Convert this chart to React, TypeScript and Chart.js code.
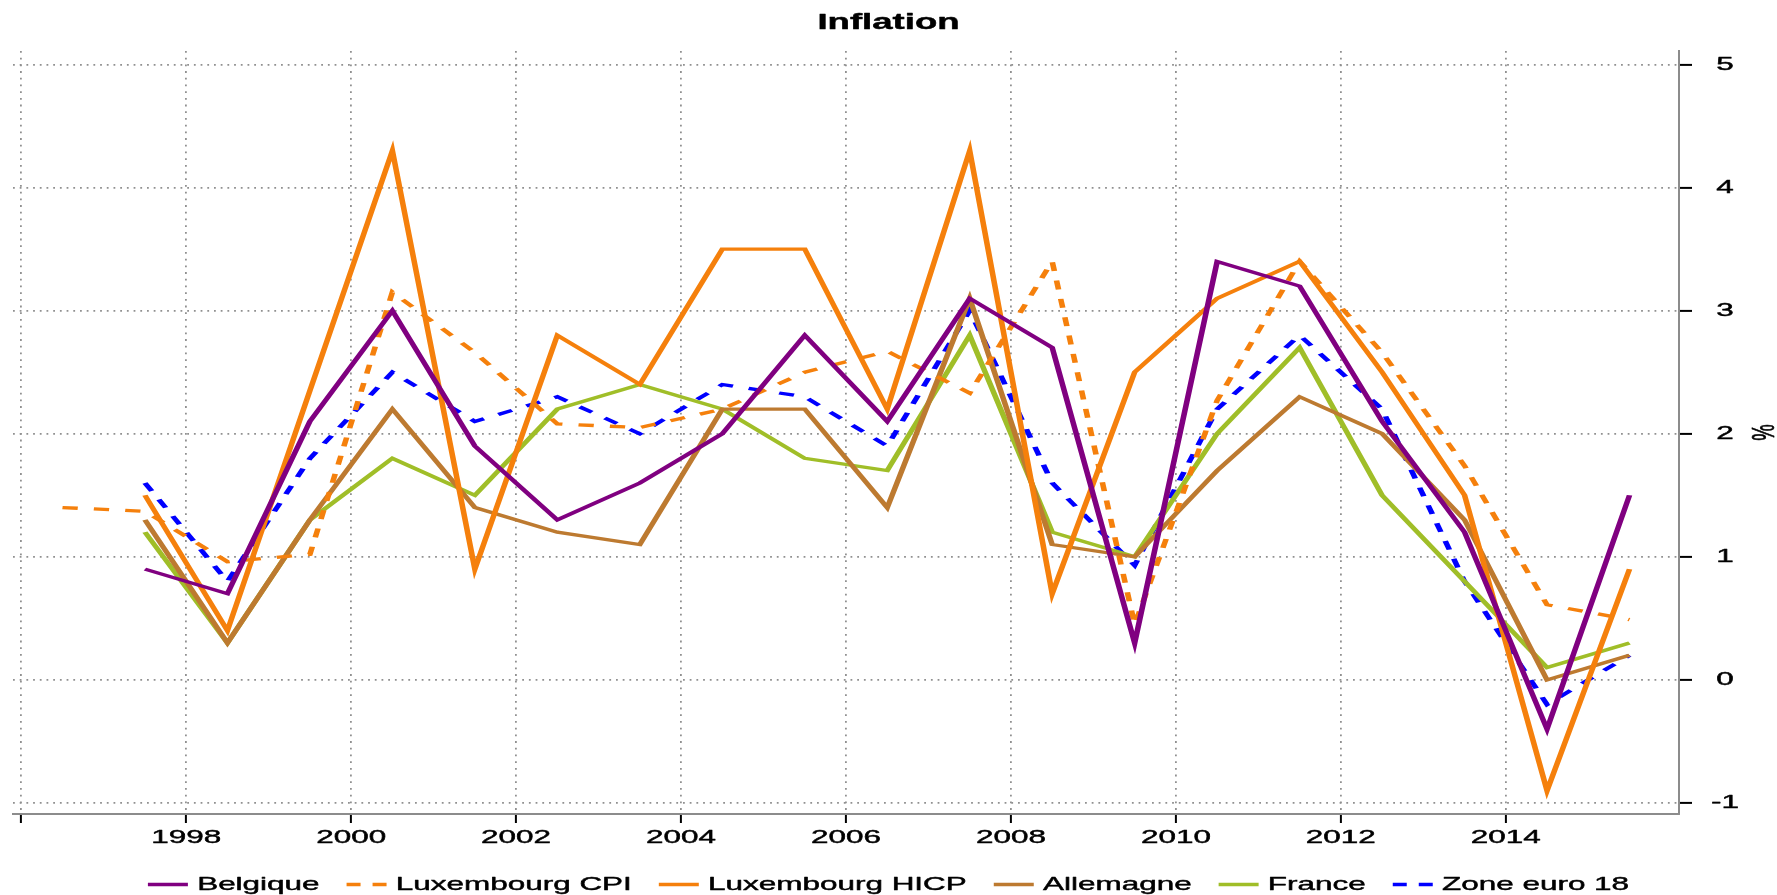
import React, { useEffect, useRef } from 'react';
import { Chart, registerables } from 'chart.js';

Chart.register(...registerables);

// ---------------- data ----------------
const TITLE = 'Inflation';
const Y_TITLE = '%';
const X_TICKS = [1996, 1998, 2000, 2002, 2004, 2006, 2008, 2010, 2012, 2014];
const Y_TICKS = [-1, 0, 1, 2, 3, 4, 5];

const YEARS = [
  1997.5, 1998.5, 1999.5, 2000.5, 2001.5, 2002.5, 2003.5, 2004.5, 2005.5, 2006.5,
  2007.5, 2008.5, 2009.5, 2010.5, 2011.5, 2012.5, 2013.5, 2014.5, 2015.5,
];
const YEARS_CPI = [
  1996.5, 1997.5, 1998.5, 1999.5, 2000.5, 2001.5, 2002.5, 2003.5, 2004.5, 2005.5,
  2006.5, 2007.5, 2008.5, 2009.5, 2010.5, 2011.5, 2012.5, 2013.5, 2014.5, 2015.5,
];

const BELGIQUE = [0.9, 0.7, 2.1, 3.0, 1.9, 1.3, 1.6, 2.0, 2.8, 2.1, 3.1, 2.7, 0.3, 3.4, 3.2, 2.1, 1.2, -0.4, 1.5];
const LUX_CPI = [1.4, 1.37, 0.96, 1.02, 3.15, 2.66, 2.08, 2.05, 2.2, 2.5, 2.67, 2.33, 3.4, 0.45, 2.27, 3.4, 2.66, 1.74, 0.61, 0.49];
const LUX_HICP = [1.5, 0.4, 2.35, 4.3, 0.9, 2.8, 2.4, 3.5, 3.5, 2.2, 4.3, 0.7, 2.5, 3.1, 3.4, 2.5, 1.5, -0.9, 0.9];
const ALLEMAGNE = [1.3, 0.3, 1.3, 2.2, 1.4, 1.2, 1.1, 2.2, 2.2, 1.4, 3.1, 1.1, 1.0, 1.7, 2.3, 2.0, 1.3, 0.0, 0.2];
const FRANCE = [1.2, 0.3, 1.3, 1.8, 1.5, 2.2, 2.4, 2.2, 1.8, 1.7, 2.8, 1.2, 1.0, 2.0, 2.7, 1.5, 0.8, 0.1, 0.3];
const ZONE_EURO = [1.6, 0.8, 1.8, 2.5, 2.1, 2.3, 2.0, 2.4, 2.3, 1.9, 3.0, 1.6, 0.93, 2.2, 2.8, 2.2, 0.8, -0.2, 0.2];

const SERIES_LABELS = ['Belgique', 'Luxembourg CPI', 'Luxembourg HICP', 'Allemagne', 'France', 'Zone euro 18'];

// ---------------- styles ----------------
const FONT = "'Liberation Sans', Arial, sans-serif";
const STRETCH = 1.7; // the original graphic is stretched horizontally
const TEXT_WEIGHT_STROKE = 0.45;
const SERIES_STYLE = [
  { color: '#800080', dashed: false },
  { color: '#f5800c', dashed: true },
  { color: '#f5800c', dashed: false },
  { color: '#bd7a30', dashed: false },
  { color: '#a0be28', dashed: false },
  { color: '#0000ff', dashed: true },
];

const toPoints = (xs: number[], ys: number[]) => xs.map((x, i) => ({ x, y: ys[i] }));

function patchText(ctx: CanvasRenderingContext2D, sx: number) {
  const proto = CanvasRenderingContext2D.prototype;
  (ctx as any).fillText = function (text: string, x: number, y: number) {
    const M = this.getTransform();
    const p = M.transformPoint(new DOMPoint(x, y));
    this.save();
    const N = new DOMMatrix()
      .translate(p.x, p.y)
      .scale(sx, 1)
      .translate(-p.x, -p.y)
      .multiply(M)
      .translate(x, y);
    this.setTransform(N);
    proto.fillText.call(this, text, 0, 0);
    this.lineWidth = TEXT_WEIGHT_STROKE;
    this.strokeStyle = this.fillStyle;
    this.setLineDash([]);
    this.lineJoin = 'round';
    proto.strokeText.call(this, text, 0, 0);
    this.restore();
  };
  (ctx as any).measureText = function (text: string) {
    const m = proto.measureText.call(this, text);
    return {
      width: m.width * sx,
      actualBoundingBoxLeft: m.actualBoundingBoxLeft * sx,
      actualBoundingBoxRight: m.actualBoundingBoxRight * sx,
      actualBoundingBoxAscent: m.actualBoundingBoxAscent,
      actualBoundingBoxDescent: m.actualBoundingBoxDescent,
      fontBoundingBoxAscent: m.fontBoundingBoxAscent,
      fontBoundingBoxDescent: m.fontBoundingBoxDescent,
    } as TextMetrics;
  };
}

// Stretched pen for the data lines (stroke width/dashes scaled horizontally)
const stretchedPen = {
  id: 'stretchedPen',
  beforeDatasetsDraw(chart: any) {
    const ctx = chart.ctx as CanvasRenderingContext2D;
    const proto = CanvasRenderingContext2D.prototype;
    (ctx as any).stroke = function (path?: Path2D) {
      const M = this.getTransform();
      this.save();
      this.setTransform(M.scale(STRETCH, 1));
      if (path) {
        const p2 = new Path2D();
        p2.addPath(path, new DOMMatrix().scale(1 / STRETCH, 1));
        proto.stroke.call(this, p2);
      } else {
        proto.stroke.call(this);
      }
      this.restore();
    };
  },
  afterDatasetsDraw(chart: any) {
    delete (chart.ctx as any).stroke;
  },
};

export default function App() {
  const ref = useRef<HTMLCanvasElement>(null);

  useEffect(() => {
    const canvas = ref.current!;
    const ctx = canvas.getContext('2d')!;
    patchText(ctx, STRETCH);

    const seriesData = [
      toPoints(YEARS, BELGIQUE),
      toPoints(YEARS_CPI, LUX_CPI),
      toPoints(YEARS, LUX_HICP),
      toPoints(YEARS, ALLEMAGNE),
      toPoints(YEARS, FRANCE),
      toPoints(YEARS, ZONE_EURO),
    ];

    const datasets = SERIES_LABELS.map((label, i) => ({
      label,
      data: seriesData[i],
      borderColor: SERIES_STYLE[i].color,
      backgroundColor: SERIES_STYLE[i].color,
      borderWidth: 3.3,
      borderDash: SERIES_STYLE[i].dashed ? [9, 9.5] : [],
      pointRadius: 0,
      tension: 0,
      fill: false,
    }));

    const gridColor = '#909090';
    const gridDash = [1.8, 4.9];

    const chart = new Chart(ctx, {
      type: 'line',
      data: { datasets },
      plugins: [stretchedPen],
      options: {
        responsive: false,
        maintainAspectRatio: false,
        animation: false,
        devicePixelRatio: 1,
        layout: { padding: { left: 0, right: 0, top: 0, bottom: -8.75 } },
        plugins: {
          tooltip: { enabled: false },
          title: {
            display: true,
            text: TITLE,
            color: '#000',
            font: { family: FONT, size: 21.5, weight: 'bold' },
            padding: { top: 9.8, bottom: 15.4 },
          },
          legend: {
            display: true,
            position: 'bottom',
            align: 'center',
            labels: {
              usePointStyle: true,
              pointStyle: 'line',
              pointStyleWidth: 40,
              padding: 27,
              color: '#000',
              font: { family: FONT, size: 18.5 },
              generateLabels: (c: any) => {
                const items = (Chart.defaults.plugins.legend.labels as any).generateLabels(c);
                return items.map((it: any, i: number) => ({
                  ...it,
                  pointStyle: 'line',
                  lineWidth: 3.4,
                  lineDash: SERIES_STYLE[i].dashed ? [14, 12] : [],
                  strokeStyle: SERIES_STYLE[i].color,
                }));
              },
            },
          },
        },
        scales: {
          x: {
            type: 'linear',
            position: 'bottom',
            min: 1995.9,
            max: 2016.1,
            afterBuildTicks: (s: any) => {
              s.ticks = X_TICKS.map((v) => ({ value: v }));
            },
            afterFit: (s: any) => {
              s.height = 34.25;
            },
            ticks: {
              autoSkip: false,
              maxRotation: 0,
              minRotation: 0,
              padding: 3.9,
              color: '#000',
              font: { family: FONT, size: 18.5 },
              callback: (v: any) => (v === X_TICKS[0] ? '' : String(v)),
            },
            grid: {
              display: true,
              drawOnChartArea: true,
              drawTicks: true,
              tickLength: 9,
              color: gridColor,
              lineWidth: 1.8,
              tickColor: '#000',
              tickWidth: 2,
              tickBorderDash: [],
            },
            border: { display: true, color: '#8c8c8c', width: 2, dash: gridDash },
          },
          y: {
            type: 'linear',
            position: 'right',
            min: -1.09,
            max: 5.11,
            afterBuildTicks: (s: any) => {
              s.ticks = Y_TICKS.map((v) => ({ value: v }));
            },
            afterFit: (s: any) => {
              s.width = 98;
            },
            ticks: {
              crossAlign: 'center',
              padding: 19,
              color: '#000',
              font: { family: FONT, size: 18.5 },
              callback: (v: any) => String(v),
            },
            title: {
              display: true,
              text: Y_TITLE,
              color: '#000',
              font: { family: FONT, size: 18.5 },
              padding: { top: 5.2, bottom: 0 },
            },
            grid: {
              display: true,
              drawOnChartArea: true,
              drawTicks: true,
              tickLength: 13,
              color: gridColor,
              lineWidth: 1.8,
              tickColor: '#000',
              tickWidth: 2,
              tickBorderDash: [],
            },
            border: { display: true, color: '#8c8c8c', width: 2, dash: gridDash },
          },
          yL: {
            type: 'linear',
            position: 'left',
            display: true,
            grid: { display: false, drawTicks: false },
            border: { display: false },
            ticks: { display: false },
            afterFit: (s: any) => {
              s.width = 13;
            },
          },
        },
      } as any,
    });

    return () => {
      chart.destroy();
      delete (ctx as any).fillText;
      delete (ctx as any).measureText;
      delete (ctx as any).stroke;
    };
  }, []);

  return (
    <div style={{ position: 'fixed', left: 0, top: 0, width: 1777, height: 895, background: '#fff' }}>
      <canvas ref={ref} width={1777} height={895} style={{ width: 1777, height: 895, display: 'block' }} />
    </div>
  );
}
